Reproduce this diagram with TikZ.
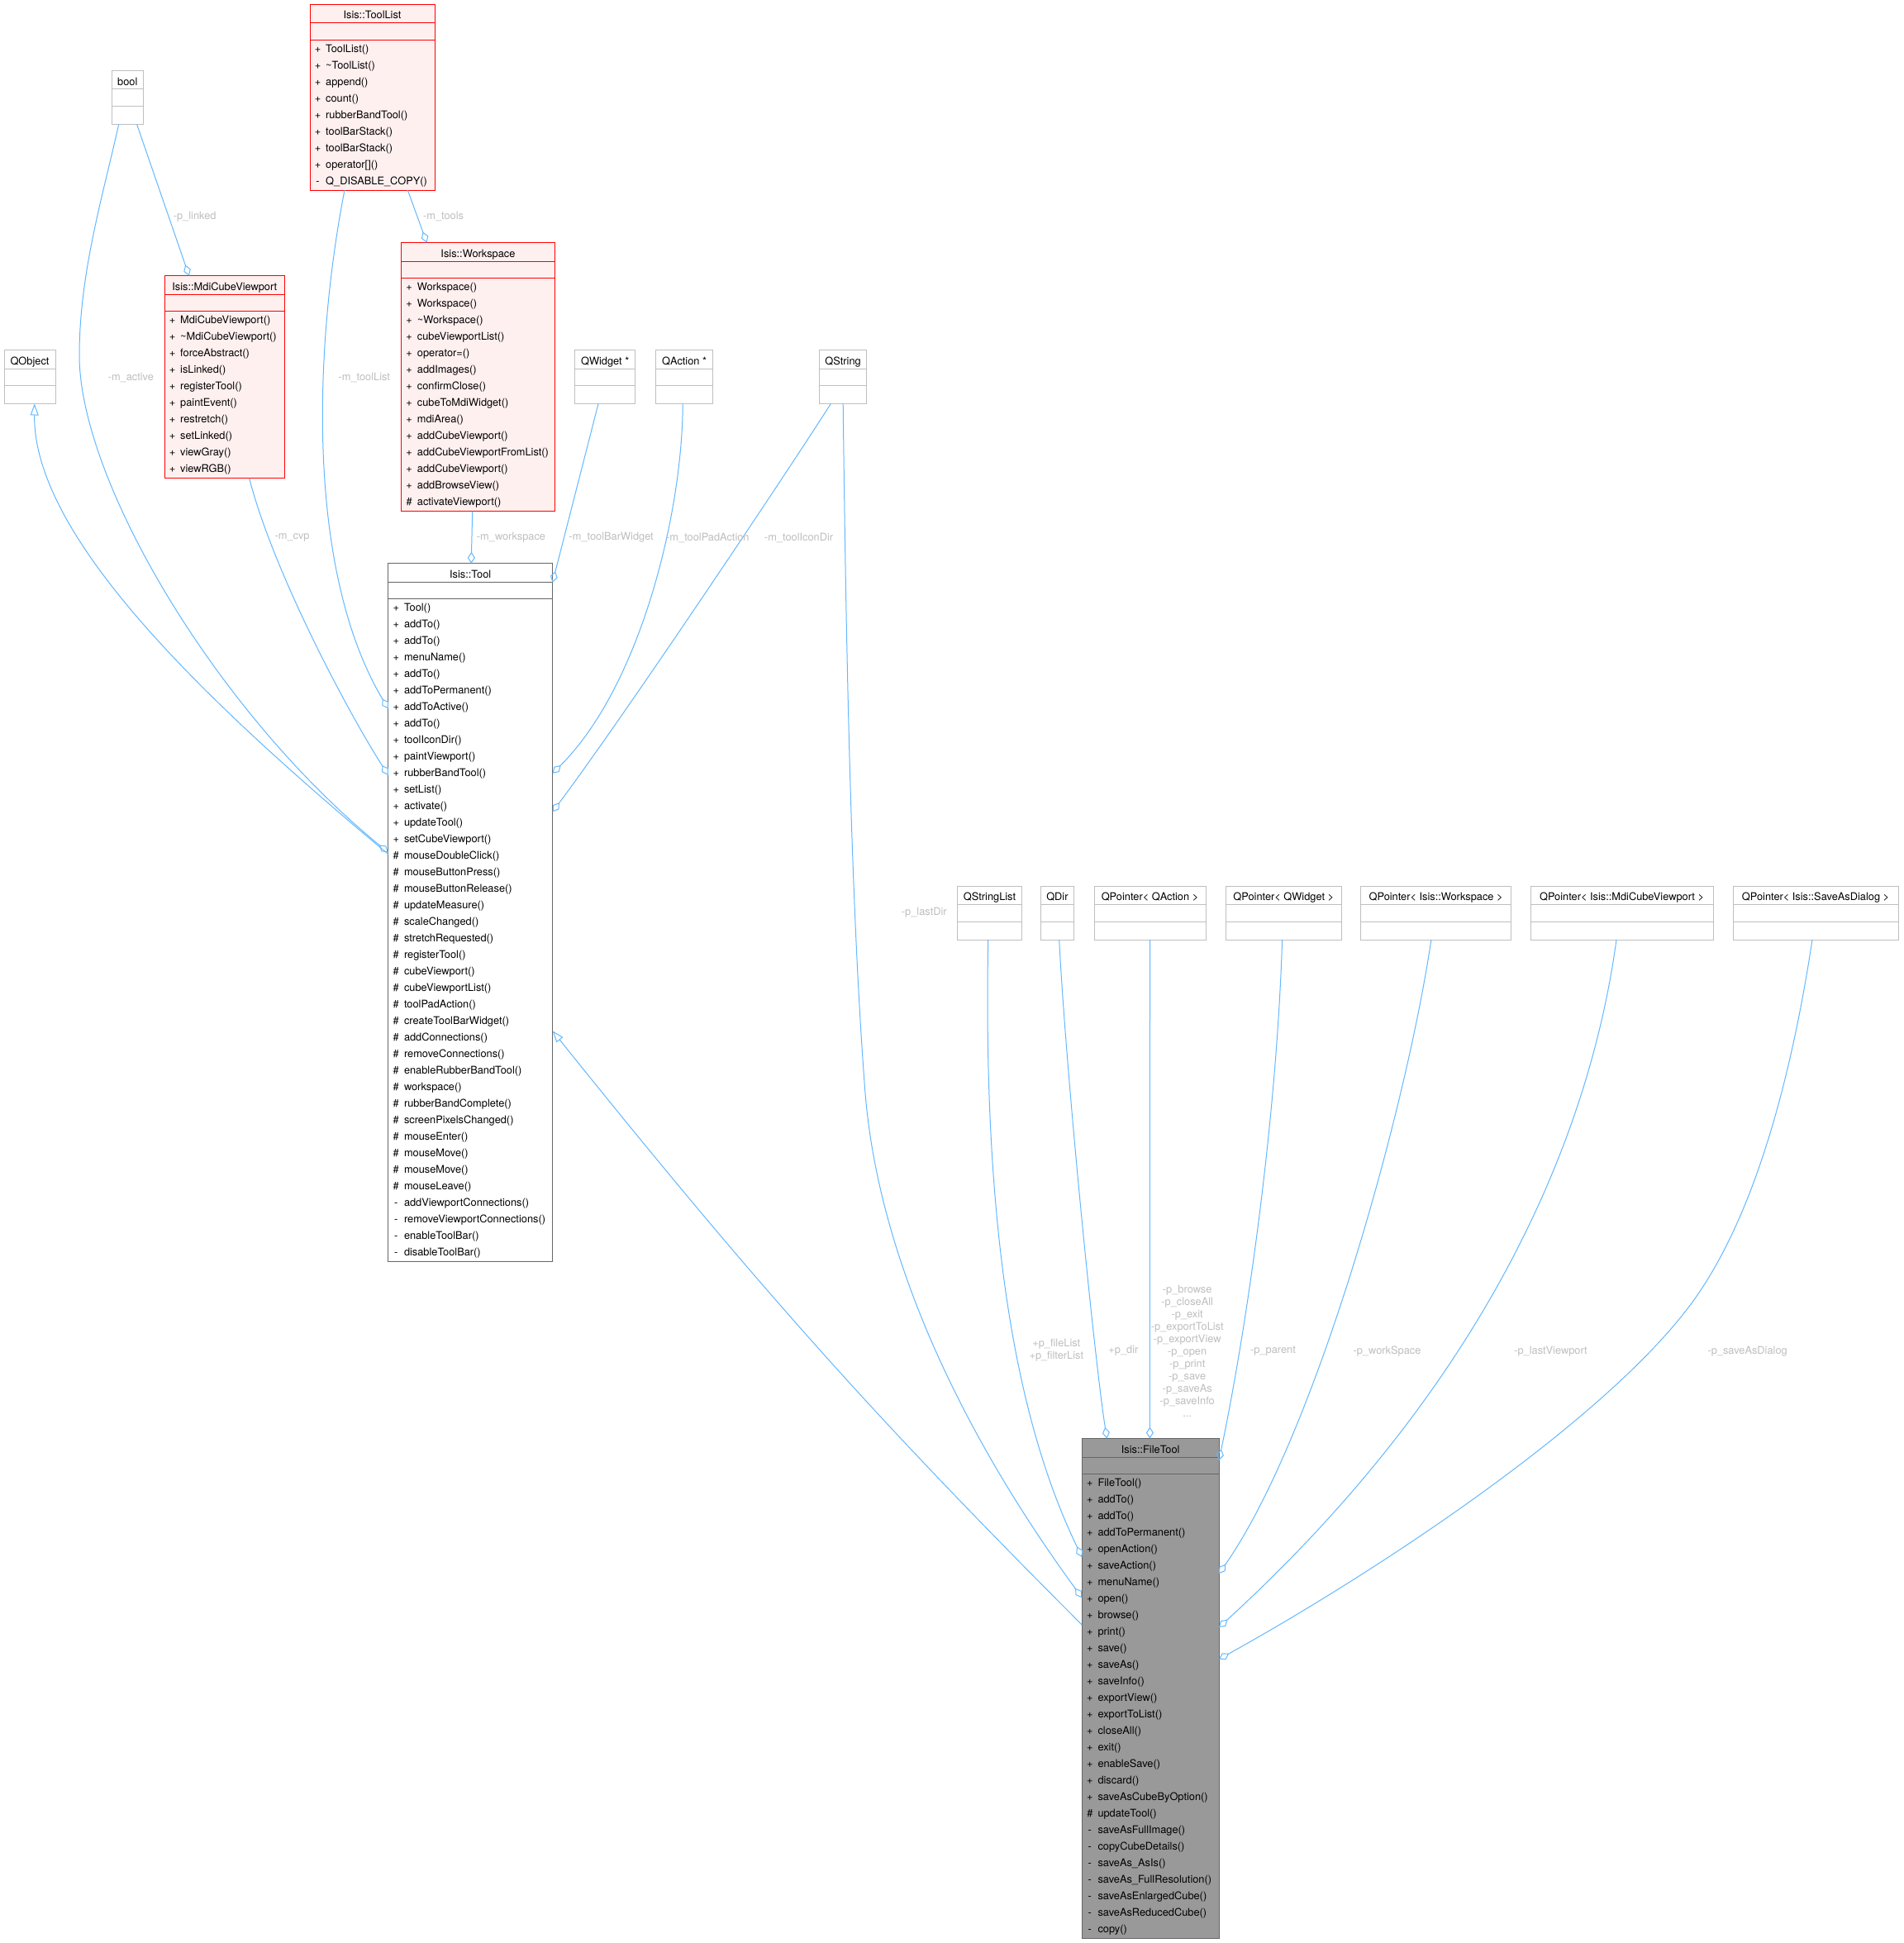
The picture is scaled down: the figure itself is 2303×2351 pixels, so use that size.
\documentclass[tikz,border=0pt]{standalone}
\usepackage{fontspec}
\setmainfont{TeX Gyre Heros}
\usepackage{tikz}
\usetikzlibrary{calc,arrows.meta}
\definecolor{edgeblue}{HTML}{63B8FF}
\definecolor{lblgray}{HTML}{BEBEBE}
\definecolor{redfill}{HTML}{FFF0F0}
\definecolor{boxgray}{HTML}{BFBFBF}
\definecolor{toolgray}{HTML}{666666}
\definecolor{filegray}{HTML}{999999}
\tikzset{
	cls/.style={anchor=north west, inner sep=0pt, outer sep=0pt, line width=1pt},
	clsbox/.style={cls, draw=boxgray, fill=white},
	clsred/.style={cls, draw=red, fill=redfill},
	clsdark/.style={cls, draw=toolgray, fill=white},
	clsfile/.style={cls, draw=toolgray, fill=filegray},
	member/.style={font=\fontsize{12.8}{20}\selectfont, inner sep=0pt},
	lbl/.style={font=\fontsize{12.8}{15}\selectfont, text=lblgray, inner sep=0pt, align=center},
	agg/.style={draw=edgeblue, line width=1pt, -{Diamond[open, length=14pt, width=9pt]}},
	inh/.style={draw=edgeblue, line width=1pt, -{Triangle[open, length=14pt, width=10pt]}}
}
\def\umlclass[#1](#2)(#3:#4:#5)#6#7{%
	\pgfmathsetmacro\clsh{43+max(22,20*#5+2)}%
	\node[#1, minimum width=#4pt, minimum height=\clsh pt] (#2) at (#3) {};%
	\draw[#1, fill=none] ($(#2.north west)+(0,22.5)$) -- ($(#2.north east)+(0,22.5)$);%
	\draw[#1, fill=none] ($(#2.north west)+(0,43)$) -- ($(#2.north east)+(0,43)$);%
	\node[member, anchor=base] (#2-name) at ($(#2.north)+(0,17.7)$) {#6};%
	\foreach \mvis/\mname [count=\i] in {#7} {%
		\node[member, anchor=base] (#2-v\i) at ($(#2.north west)+(9.5,38+20*\i)$) {\mvis};%
		\node[member, anchor=base west] (#2-m\i) at ($(#2.north west)+(19,38+20*\i)$) {\mname};%
	}%
}
\def\umltype[#1](#2)(#3:#4)#5{%
	\node[#1, minimum width=#4pt, minimum height=65pt] (#2) at (#3) {};%
	\draw[#1, fill=none] ($(#2.north west)+(0,22.5)$) -- ($(#2.north east)+(0,22.5)$);%
	\draw[#1, fill=none] ($(#2.north west)+(0,43)$) -- ($(#2.north east)+(0,43)$);%
	\node[member, anchor=base] (#2-name) at ($(#2.north)+(0,17.7)$) {#5};%
}

\begin{document}
\begin{tikzpicture}[x=1pt, y=-1pt]
		%%%%% START %%%%%
		\fill[white] (0,0) rectangle (2303,2351);
		\useasboundingbox (0,0) rectangle (2303,2351);
		
		% top row
		\umlclass[clsred](toollist)(375,5:151:9){Isis::ToolList}{+/ToolList(), +/\textasciitilde ToolList(), +/append(), +/count(), +/rubberBandTool(), +/toolBarStack(), +/toolBarStack(), +/{operator[]()}, -/Q\_DISABLE\_COPY()}
		\umltype[clsbox](bool)(135.3,85.4:38){bool}
		\umlclass[clsred](mdicube)(199,333.7:145.7:10){Isis::MdiCubeViewport}{+/MdiCubeViewport(), +/\textasciitilde MdiCubeViewport(), +/forceAbstract(), +/isLinked(), +/registerTool(), +/paintEvent(), +/restretch(), +/setLinked(), +/viewGray(), +/viewRGB()}
		\umlclass[clsred](workspace)(485.7,293.7:185.5:14){Isis::Workspace}{+/Workspace(), +/Workspace(), +/\textasciitilde Workspace(), +/cubeViewportList(), +/operator=(), +/addImages(), +/confirmClose(), +/cubeToMdiWidget(), +/mdiArea(), +/addCubeViewport(), +/addCubeViewportFromList(), +/addCubeViewport(), +/addBrowseView(), \#/activateViewport()}
		
		\umltype[clsbox](qobject)(5,423.5:62){QObject}
		\umltype[clsbox](qwidget)(695.5,423.5:73.3){QWidget *}
		\umltype[clsbox](qaction)(793.3,423.5:69.6){QAction *}
		\umltype[clsbox](qstring)(991.3,423.5:57.5){QString}
		
		% base class
		\umlclass[clsdark](tool)(469.8,681.8:198.8:40){Isis::Tool}{+/Tool(), +/addTo(), +/addTo(), +/menuName(), +/addTo(), +/addToPermanent(), +/addToActive(), +/addTo(), +/toolIconDir(), +/paintViewport(), +/rubberBandTool(), +/setList(), +/activate(), +/updateTool(), +/setCubeViewport(), \#/mouseDoubleClick(), \#/mouseButtonPress(), \#/mouseButtonRelease(), \#/updateMeasure(), \#/scaleChanged(), \#/stretchRequested(), \#/registerTool(), \#/cubeViewport(), \#/cubeViewportList(), \#/toolPadAction(), \#/createToolBarWidget(), \#/addConnections(), \#/removeConnections(), \#/enableRubberBandTool(), \#/workspace(), \#/rubberBandComplete(), \#/screenPixelsChanged(), \#/mouseEnter(), \#/mouseMove(), \#/mouseMove(), \#/mouseLeave(), -/addViewportConnections(), -/removeViewportConnections(), -/enableToolBar(), -/disableToolBar()}
		
		% member types
		\umltype[clsbox](qstringlist)(1158.5,1072:78){QStringList}
		\umltype[clsbox](qdir)(1259.4,1072:40){QDir}
		\umltype[clsbox](qptraction)(1324,1072:135){QPointer< QAction >}
		\umltype[clsbox](qptrwidget)(1483.5,1072:139.5){QPointer< QWidget >}
		\umltype[clsbox](qptrworkspace)(1646.7,1072:181.7){QPointer< Isis::Workspace >}
		\umltype[clsbox](qptrmdi)(1852,1072:221){QPointer< Isis::MdiCubeViewport >}
		\umltype[clsbox](qptrsave)(2097,1072:200){QPointer< Isis::SaveAsDialog >}
		
		% the class itself
		\umlclass[clsfile](filetool)(1309.3,1740.6:165.7:28){Isis::FileTool}{+/FileTool(), +/addTo(), +/addTo(), +/addToPermanent(), +/openAction(), +/saveAction(), +/menuName(), +/open(), +/browse(), +/print(), +/save(), +/saveAs(), +/saveInfo(), +/exportView(), +/exportToList(), +/closeAll(), +/exit(), +/enableSave(), +/discard(), +/saveAsCubeByOption(), \#/updateTool(), -/saveAsFullImage(), -/copyCubeDetails(), -/saveAs\_AsIs(), -/saveAs\_FullResolution(), -/saveAsEnlargedCube(), -/saveAsReducedCube(), -/copy()}
		
		% connectors to Isis::Tool
		\draw[inh] ($(tool.north west)+(0,351.7)$) .. controls (250,850) and (40,650) .. ($(qobject.south west)+(36.8,0)$);
		\draw[agg] ($(bool.south west)+(8.4,0)$) .. controls (125,235) and (96,330) .. (96,430) .. controls (96,580) and (260,860) .. ($(tool.north west)+(0,349.5)$);
		\draw[agg] ($(bool.south west)+(30.3,0)$) -- ($(mdicube.north west)+(29.8,0)$);
		\draw[agg] ($(toollist.south west)+(118.3,0)$) -- ($(workspace.north west)+(30.8,0)$);
		\draw[agg] ($(toollist.south west)+(42,0)$) .. controls (380,420) and (370,690) .. ($(tool.north west)+(0,175.7)$);
		\draw[agg] ($(mdicube.south west)+(102.7,0)$) .. controls (330,690) and (420,860) .. ($(tool.north west)+(0,256)$);
		\draw[agg] ($(workspace.south west)+(86,0)$) -- ($(tool.north west)+(100.4,0)$);
		\draw[agg] ($(qwidget.south west)+(28.5,0)$) -- ($(tool.north east)+(0,23)$);
		\draw[agg] ($(qaction.south west)+(32.9,0)$) .. controls (826,620) and (775,830) .. ($(tool.north east)+(0,254)$);
		\draw[agg] ($(qstring.south west)+(14,0)$) .. controls (960,560) and (760,860) .. ($(tool.north east)+(0,300.5)$);
		
		% connectors to Isis::FileTool
		\draw[agg] ($(qstring.south west)+(28.9,0)$) .. controls (1024,800) and (1030,1100) .. (1046.7,1319) .. controls (1061.9,1519) and (1163,1733) .. ($(filetool.north west)+(0,192.5)$);
		\draw[agg] ($(qstringlist.south west)+(37.2,0)$) .. controls (1190,1450) and (1220,1700) .. ($(filetool.north west)+(0,143.4)$);
		\draw[agg] ($(qdir.south west)+(22.3,0)$) .. controls (1290,1300) and (1325,1650) .. ($(filetool.north west)+(30.2,0)$);
		\draw[agg] (qptraction.south) -- ($(filetool.north west)+(82.1,0)$);
		\draw[agg] ($(qptrwidget.south west)+(68.1,0)$) .. controls (1545,1350) and (1510,1600) .. ($(filetool.north east)+(0,26.5)$);
		\draw[agg] ($(qptrworkspace.south west)+(85.2,0)$) .. controls (1700,1350) and (1590,1740) .. ($(filetool.north east)+(0,163.5)$);
		\draw[agg] ($(qptrmdi.south west)+(104,0)$) .. controls (1920,1400) and (1780,1690) .. ($(filetool.north east)+(0,228.5)$);
		\draw[agg] ($(qptrsave.south west)+(96,0)$) .. controls (2170.2,1287) and (2127.7,1467.7) .. (2046.3,1577.7) .. controls (1942.7,1717.7) and (1675.5,1896.2) .. ($(filetool.north east)+(0,267)$);
		\draw[inh] ($(filetool.north west)+(0,225.5)$) .. controls (1059.3,1716) and (919,1559.5) .. ($(tool.north east)+(0,565.5)$);
		
		% edge labels
		\node[lbl] (lbl-linked) at (235.7,262.4) {-p\_linked};
		\node[lbl] (lbl-tools) at (536.6,262.4) {-m\_tools};
		\node[lbl] (lbl-active) at (158.4,456.8) {-m\_active};
		\node[lbl] (lbl-toollist) at (440.8,456.8) {-m\_toolList};
		\node[lbl] (lbl-cvp) at (353.6,650.7) {-m\_cvp};
		\node[lbl] (lbl-workspace) at (618.5,650.7) {-m\_workspace};
		\node[lbl] (lbl-toolbar) at (739.7,650.7) {-m\_toolBarWidget};
		\node[lbl] (lbl-toolpad) at (856.4,650.7) {-m\_toolPadAction};
		\node[lbl] (lbl-toolicon) at (966.6,650.7) {-m\_toolIconDir};
		\node[lbl] (lbl-lastdir) at (1118.3,1104) {-p\_lastDir};
		\node[lbl] (lbl-filelist) at (1278.3,1634) {+p\_fileList\\+p\_filterList};
		\node[lbl] (lbl-dir) at (1359.4,1634.7) {+p\_dir};
		\node[lbl] (lbl-actions) at (1436.7,1635.3) {-p\_browse\\-p\_closeAll\\-p\_exit\\-p\_exportToList\\-p\_exportView\\-p\_open\\-p\_print\\-p\_save\\-p\_saveAs\\-p\_saveInfo\\...};
		\node[lbl] (lbl-parent) at (1540.5,1635) {-p\_parent};
		\node[lbl] (lbl-wsptr) at (1678.5,1635) {-p\_workSpace};
		\node[lbl] (lbl-lastview) at (1876.5,1635) {-p\_lastViewport};
		\node[lbl] (lbl-saveas) at (2114.6,1635) {-p\_saveAsDialog};
		
		%%%%% END %%%%%
\end{tikzpicture}
\end{document}
